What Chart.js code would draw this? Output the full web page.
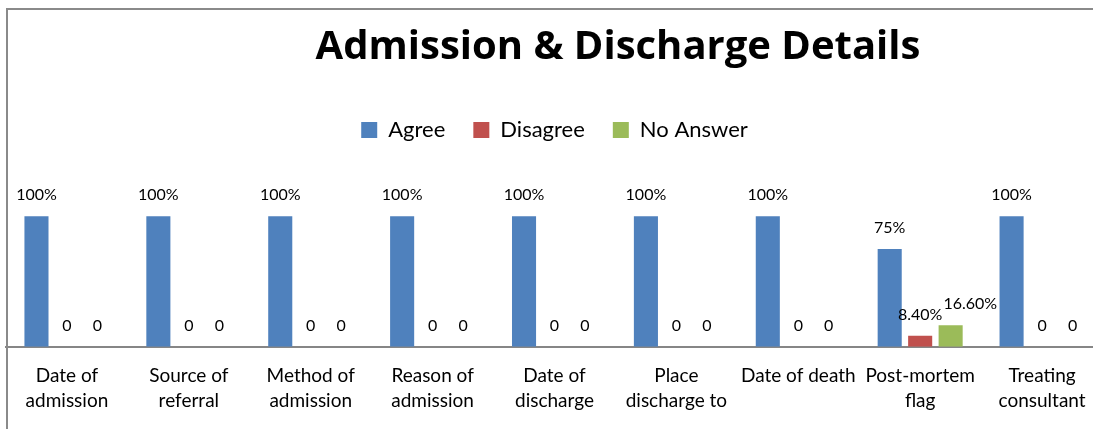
<!DOCTYPE html>
<html>
<head>
<meta charset="utf-8">
<title>Admission &amp; Discharge Details</title>
<script src="https://cdn.jsdelivr.net/npm/chart.js@4.4.1/dist/chart.umd.min.js"></script>
<style>
  html, body { margin: 0; padding: 0; background: #fff; overflow: hidden; }
  #wrap { position: absolute; left: 0; top: 0; width: 1110px; height: 429px; }
  #frame { position: absolute; left: 6px; top: 8px; width: 1200px; height: 500px;
           border-left: 2px solid #8a8a8a; border-top: 2px solid #8a8a8a; pointer-events: none; }
</style>
</head>
<body>
<div id="wrap"><canvas id="myChart"></canvas></div>
<div id="frame"></div>
<script>
// categories along the bottom axis (arrays = two-line labels)
var categories = [
    ["Date of", "admission"],
    ["Source of", "referral"],
    ["Method of", "admission"],
    ["Reason of", "admission"],
    ["Date of", "discharge"],
    ["Place", "discharge to"],
    "Date of death",
    ["Post-mortem", "flag"],
    ["Treating", "consultant"]
];

// percentages per answer
var agree    = [100, 100, 100, 100, 100, 100, 100, 75, 100];
var disagree = [0, 0, 0, 0, 0, 0, 0, 8.4, 0];
var noAnswer = [0, 0, 0, 0, 0, 0, 0, 16.6, 0];

// value text shown above each bar
var formatValue = function(v) {
    if (v === 0) return "0";
    if (Math.round(v) === v) return v + "%";
    return v.toFixed(2) + "%";
};

// plugin: value labels above the bars, nudged right if they bump into the previous one
var valueLabels = {
    id: "valueLabels",
    afterDatasetsDraw: function(chart) {
        var ctx = chart.ctx;
        ctx.save();
        ctx.font = "16px Lato";
        ctx.fillStyle = "#000";
        ctx.textAlign = "center";
        ctx.textBaseline = "middle";
        for (var i = 0; i < chart.data.labels.length; i++) {
            var lastRight = -Infinity;
            var lastY = null;
            chart.data.datasets.forEach(function(ds, d) {
                var bar = chart.getDatasetMeta(d).data[i];
                var text = formatValue(ds.data[i]);
                var w = ctx.measureText(text).width;
                var x = bar.x;
                var y = bar.y - 21;
                if (lastY !== null && Math.abs(y - lastY) < 16 && x - w / 2 < lastRight + 1) {
                    x = lastRight + 1 + w / 2;
                }
                ctx.fillText(text, x, y);
                lastRight = x + w / 2;
                lastY = y;
            });
        }
        ctx.restore();
    }
};

// plugin: big bold heading
var chartTitle = {
    id: "chartTitle",
    afterDraw: function(chart, args, opts) {
        var ctx = chart.ctx;
        ctx.save();
        ctx.font = "bold 40px 'Open Sans'";
        ctx.fillStyle = "#000";
        ctx.textAlign = "center";
        ctx.textBaseline = "alphabetic";
        ctx.fillText(opts.text, opts.x, opts.y);
        ctx.restore();
    }
};

var ctx = document.getElementById("myChart").getContext("2d");

var detailsChart = new Chart(ctx, {
    type: "bar",
    data: {
        labels: categories,
        datasets: [
            { label: "Agree", data: agree, backgroundColor: "#4F81BD" },
            { label: "Disagree", data: disagree, backgroundColor: "#C0504D" },
            { label: "No Answer", data: noAnswer, backgroundColor: "#9BBB59" }
        ]
    },
    options: {
        responsive: true,
        maintainAspectRatio: false,
        animation: false,
        layout: {
            padding: { top: 91, left: 6, right: 7, bottom: 8 }
        },
        datasets: {
            bar: { categoryPercentage: 0.75, barPercentage: 0.79 }
        },
        plugins: {
            legend: {
                position: "top",
                labels: {
                    boxWidth: 16,
                    boxHeight: 16,
                    padding: 28,
                    color: "#000",
                    font: { family: "Lato", size: 22 }
                }
            },
            tooltip: { enabled: false },
            chartTitle: { text: "Admission & Discharge Details", x: 618, y: 59 }
        },
        scales: {
            x: {
                grid: { display: false },
                border: { color: "#868686", width: 2 },
                ticks: {
                    color: "#000",
                    padding: 8,
                    maxRotation: 0,
                    autoSkip: false,
                    font: { family: "Lato", size: 19, lineHeight: 1.32 }
                }
            },
            y: { display: false, min: 0, max: 150 }
        }
    },
    plugins: [valueLabels, chartTitle]
});
</script>
</body>
</html>
